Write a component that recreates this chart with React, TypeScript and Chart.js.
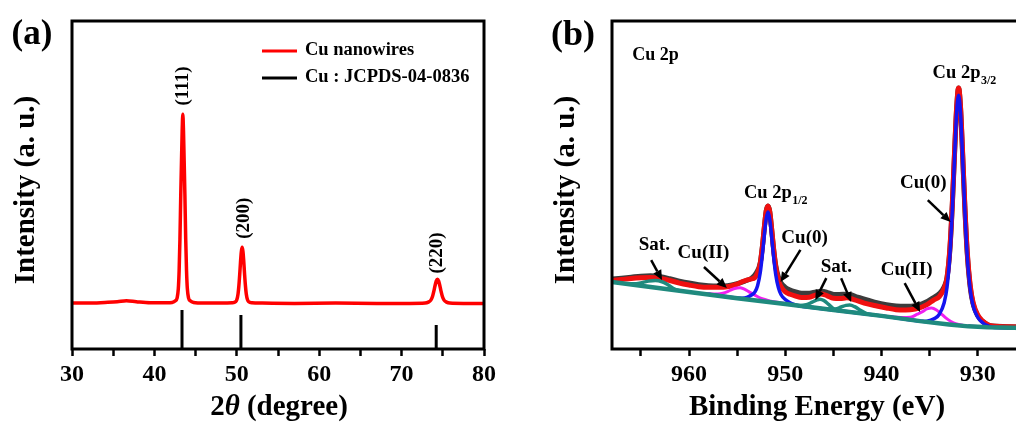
import React, { useEffect, useRef } from 'react';
import { Chart, registerables } from 'chart.js';

Chart.register(...registerables);

const FONT = '"Liberation Serif", "Times New Roman", serif';

// ---------- Panel (a): XRD ----------
const xrdAngle = [30, 32, 34, 35.5, 36.6, 37.8, 39.5, 41.5, 42.15, 42.55, 42.75, 42.9, 43.0, 43.1, 43.2, 43.29, 43.37, 43.45, 43.53, 43.61, 43.7, 43.8, 43.9, 44.0, 44.15, 44.35, 44.75, 46, 48, 49.45, 49.85, 50.0, 50.15, 50.25, 50.35, 50.45, 50.55, 50.65, 50.75, 50.85, 50.95, 51.05, 51.15, 51.3, 51.45, 51.85, 53, 57, 62, 67, 71, 72.85, 73.25, 73.55, 73.75, 73.9, 74.05, 74.2, 74.35, 74.5, 74.65, 74.8, 74.95, 75.15, 75.45, 75.85, 77.5, 80];
const xrdIntensity = [14.0, 14.0, 14.2, 14.4, 14.7, 14.4, 14.1, 14.1, 14.2, 14.7, 15.5, 18.3, 23.8, 33.5, 47.1, 57.5, 66.5, 71.6, 66.5, 57.5, 47.1, 33.5, 23.8, 18.3, 15.5, 14.7, 14.2, 14.0, 14.0, 14.1, 14.4, 15.0, 16.8, 19.2, 22.6, 26.5, 29.7, 31.0, 29.7, 26.5, 22.6, 19.2, 16.8, 15.0, 14.4, 14.1, 14.0, 13.9, 14.0, 13.9, 13.9, 14.0, 14.3, 14.9, 16.0, 17.5, 19.2, 20.7, 21.3, 20.7, 19.2, 17.5, 16.0, 14.9, 14.3, 14.0, 13.9, 13.9];
const refAngle = [43.35, 50.5, 74.2];
const refIntensity = [11.9, 10.4, 7.3];
const planeLabels = ['(111)', '(200)', '(220)'];
const planeLabelAngle = [43.51, 50.85, 74.32];
const planeLabelIntensity = [80.2, 39.9, 29.3];
const xrdLegend = ['Cu nanowires', 'Cu : JCPDS-04-0836'];

// ---------- Panel (b): XPS Cu 2p ----------
const rawEnergy = [968, 967, 966, 965, 964, 963, 962, 961, 960, 959, 958, 957, 956, 955, 954.2, 953.5, 953.0, 952.6, 952.38, 952.16, 951.98, 951.8, 951.62, 951.44, 951.22, 951.0, 950.72, 950.45, 950.0, 949.5, 949, 948.3, 947.5, 946.8, 946.2, 945.5, 944.8, 944, 943.3, 942.5, 941.5, 940.5, 939.5, 938.5, 937.5, 936.5, 935.8, 935.2, 934.6, 934.0, 933.5, 933.2, 932.9, 932.65, 932.4, 932.2, 932.0, 931.8, 931.6, 931.35, 931.1, 930.8, 930.5, 930.0, 929.5, 929.0, 928.5, 927, 925];
const rawIntensity = [21.3, 21.6, 21.9, 22.2, 22.3, 22.0, 21.4, 20.7, 20.1, 19.6, 19.3, 19.2, 19.3, 19.9, 20.7, 21.6, 23.3, 26.3, 31.2, 37.6, 42.2, 43.6, 42.0, 37.2, 30.6, 25.6, 22.0, 20.2, 18.8, 18.0, 17.5, 17.0, 17.0, 17.4, 17.6, 17.1, 16.6, 16.7, 16.6, 15.8, 15.0, 14.1, 13.5, 13.1, 13.0, 13.2, 13.8, 14.6, 15.7, 16.9, 19.0, 21.8, 30.5, 44, 61, 73.5, 79.6, 73.5, 60.5, 43, 29, 19, 13.8, 10.1, 8.4, 7.4, 7.0, 6.8, 6.6];

const fitEnergy = [968, 967, 966, 965, 964, 963, 962, 961, 960, 959, 958, 957, 956, 955, 954.5, 954.0, 953.6, 953.15, 952.88, 952.6, 952.38, 952.16, 951.98, 951.8, 951.62, 951.44, 951.22, 951.0, 950.72, 950.45, 950.0, 949.5, 949.0, 948.3, 947.5, 946.8, 946.3, 945.7, 945.0, 944.3, 943.6, 942.8, 941.8, 940.5, 939.5, 938.5, 937.5, 936.5, 935.8, 935.2, 934.6, 934.0, 933.5, 933.2, 932.9, 932.65, 932.4, 932.2, 932.0, 931.8, 931.6, 931.35, 931.1, 930.8, 930.5, 930.0, 929.5, 929.0, 928.5, 927, 925];
const fitIntensity = [20.9, 21.2, 21.5, 21.7, 21.8, 21.5, 20.9, 20.1, 19.5, 19.0, 18.8, 18.8, 19.0, 19.8, 20.5, 21.0, 21.3, 21.8, 23.2, 26.2, 31.2, 37.6, 42.1, 43.6, 41.9, 37.2, 30.6, 25.2, 21.1, 19.0, 17.4, 16.7, 16.2, 15.7, 15.8, 16.5, 16.8, 16.3, 15.5, 15.4, 15.6, 15.0, 14.0, 13.1, 12.5, 12.0, 11.9, 12.2, 12.8, 13.7, 14.9, 16.0, 18.5, 21.8, 31.0, 44.5, 61.5, 73.8, 79.6, 73.8, 61.0, 43.5, 29.5, 19.5, 14.2, 10.3, 8.5, 7.5, 7.0, 6.8, 6.6];

const cu0Energy = [958, 957, 956, 955, 954.5, 954.0, 953.6, 953.15, 952.88, 952.6, 952.38, 952.16, 951.98, 951.8, 951.62, 951.44, 951.22, 951.0, 950.72, 950.45, 950.0, 949.55, 949.1, 948.6, 947, 945, 942, 940, 938, 936.5, 935.5, 935.0, 934.5, 934.0, 933.5, 933.2, 932.9, 932.65, 932.4, 932.2, 932.0, 931.8, 931.6, 931.35, 931.1, 930.8, 930.5, 930.0, 929.5, 929.0, 928.5, 927, 925];
const cu0Intensity = [16.7, 16.3, 15.9, 15.55, 15.5, 15.7, 16.3, 17.4, 19.3, 23.3, 28.8, 35.3, 39.8, 41.8, 39.7, 35.0, 28.3, 22.8, 18.7, 16.6, 15.1, 14.2, 13.6, 13.2, 12.6, 11.9, 10.8, 10.1, 9.3, 8.7, 8.4, 8.7, 9.3, 10.6, 14.1, 18.9, 28.8, 42.5, 59.7, 72.2, 77.4, 72.0, 59.5, 42.1, 28.2, 18.2, 13.2, 9.6, 8.0, 7.1, 6.65, 6.5, 6.4];

const cu2Energy = [959.5, 958.5, 957.5, 957.0, 956.5, 956.0, 955.5, 955.0, 954.7, 954.3, 953.8, 953.2, 952.5, 951.5, 950.5, 949.5, 948, 945, 942, 940, 939, 938, 937, 936.3, 935.8, 935.3, 934.8, 934.3, 933.8, 933.3, 932.8, 932.3, 931.5, 930.5, 929.5, 928];
const cu2Intensity = [17.2, 16.9, 16.8, 16.8, 17.0, 17.5, 18.2, 18.6, 18.7, 18.3, 17.5, 16.5, 15.4, 14.6, 14.1, 13.6, 13.0, 11.9, 10.8, 10.1, 9.8, 9.6, 9.7, 10.6, 11.3, 12.2, 12.5, 11.9, 10.7, 9.4, 8.4, 7.7, 7.2, 6.9, 6.7, 6.55];

const bgEnergy = [968, 964, 960, 955, 950, 945, 940, 936, 933, 931, 929, 925];
const bgIntensity = [20.4, 18.9, 17.4, 15.5, 13.7, 11.9, 10.1, 8.5, 7.5, 6.9, 6.6, 6.4];

const satAEnergy = [966.5, 965.5, 964.8, 964.2, 963.5, 962.8, 962.2, 961.5, 961];
const satAIntensity = [19.9, 19.9, 20.3, 20.7, 20.9, 20.5, 19.6, 18.3, 17.8];
const satBEnergy = [948.5, 947.8, 947.2, 946.7, 946.4, 946.0, 945.5, 945.0, 944.5];
const satBIntensity = [13.2, 13.5, 14.3, 15.0, 15.2, 14.8, 13.6, 12.3, 11.75];
const satCEnergy = [945.5, 944.8, 944.2, 943.7, 943.3, 942.8, 942.2, 941.5];
const satCIntensity = [12.1, 12.2, 12.8, 13.3, 13.4, 12.9, 11.8, 10.7];

const xpsLabelText = ['Cu(0)', 'Cu(0)', 'Sat.', 'Cu(II)', 'Sat.', 'Cu(II)'];
const xpsLabelEnergy = [935.67, 948.0, 963.6, 958.5, 944.7, 937.4];
const xpsLabelIntensity = [50.6, 33.8, 31.7, 29.3, 25.0, 24.1];

const arrowFromEnergy = [935.2, 948.43, 963.93, 958.45, 945.74, 944.2, 937.6];
const arrowFromIntensity = [45.4, 30.2, 27.1, 25.0, 21.6, 21.6, 20.1];
const arrowToEnergy = [932.83, 950.5, 962.8, 956.07, 946.88, 943.16, 936.0];
const arrowToIntensity = [38.7, 20.4, 21.0, 18.6, 14.9, 14.3, 11.3];

const peakTitleMain = ['Cu 2p', 'Cu 2p'];
const peakTitleSub = ['3/2', '1/2'];
const peakTitleEnergy = [934.7, 954.3];
const peakTitleIntensity = [84.1, 47.6];

const toXY = (xs: number[], ys: number[]) => xs.map((x, i) => ({ x, y: ys[i] }));

function drawFrame(chart: any) {
  const { ctx, chartArea: ca } = chart;
  ctx.save();
  ctx.strokeStyle = '#000';
  ctx.lineWidth = 3;
  ctx.strokeRect(ca.left, ca.top, ca.right - ca.left, ca.bottom - ca.top);
  ctx.restore();
}

function drawRotated(ctx: CanvasRenderingContext2D, text: string, x: number, y: number, font: string) {
  ctx.save();
  ctx.translate(x, y);
  ctx.rotate(-Math.PI / 2);
  ctx.font = font;
  ctx.textAlign = 'center';
  ctx.textBaseline = 'middle';
  ctx.fillText(text, 0, 0);
  ctx.restore();
}

const xrdExtras = {
  id: 'xrdExtras',
  afterDraw(chart: any) {
    drawFrame(chart);
    const { ctx, chartArea: ca, scales } = chart;
    ctx.save();
    ctx.fillStyle = '#000';
    planeLabels.forEach((t, i) => {
      drawRotated(ctx, t, scales.x.getPixelForValue(planeLabelAngle[i]), scales.y.getPixelForValue(planeLabelIntensity[i]), `bold 19px ${FONT}`);
    });
    // legend
    const colors = ['#ff0000', '#000000'];
    xrdLegend.forEach((t, i) => {
      const y = ca.top + 30 + i * 27;
      ctx.strokeStyle = colors[i];
      ctx.lineWidth = 3;
      ctx.beginPath();
      ctx.moveTo(ca.left + 190, y);
      ctx.lineTo(ca.left + 225, y);
      ctx.stroke();
      ctx.font = `bold 18.5px ${FONT}`;
      ctx.textAlign = 'left';
      ctx.textBaseline = 'middle';
      ctx.fillText(t, ca.left + 233, y - 1);
    });
    // axis titles
    drawRotated(ctx, 'Intensity (a. u.)', 27, 190, `bold 29px ${FONT}`);
    const f1 = `bold 29px ${FONT}`;
    const f2 = `italic bold 29px ${FONT}`;
    ctx.textBaseline = 'middle';
    ctx.textAlign = 'left';
    ctx.font = f1; const w1 = ctx.measureText('2').width;
    ctx.font = f2; const w2 = ctx.measureText('\u03B8').width;
    ctx.font = f1; const w3 = ctx.measureText(' (degree)').width;
    const x0 = 279 - (w1 + w2 + w3) / 2;
    ctx.font = f1; ctx.fillText('2', x0, 408);
    ctx.font = f2; ctx.fillText('\u03B8', x0 + w1, 408);
    ctx.font = f1; ctx.fillText(' (degree)', x0 + w1 + w2, 408);
    ctx.font = `bold 35px ${FONT}`;
    ctx.textAlign = 'center';
    ctx.fillText('(a)', 32, 35);
    ctx.restore();
  },
};

function drawArrow(ctx: CanvasRenderingContext2D, x1: number, y1: number, x2: number, y2: number) {
  const ang = Math.atan2(y2 - y1, x2 - x1);
  const len = 10;
  const hw = 4.5;
  const bx = x2 - len * Math.cos(ang);
  const by = y2 - len * Math.sin(ang);
  ctx.beginPath();
  ctx.moveTo(x1, y1);
  ctx.lineTo(bx, by);
  ctx.stroke();
  ctx.beginPath();
  ctx.moveTo(x2, y2);
  ctx.lineTo(bx + hw * Math.sin(ang), by - hw * Math.cos(ang));
  ctx.lineTo(bx - hw * Math.sin(ang), by + hw * Math.cos(ang));
  ctx.closePath();
  ctx.fill();
}

const xpsExtras = {
  id: 'xpsExtras',
  afterDraw(chart: any) {
    drawFrame(chart);
    const { ctx, scales } = chart;
    const X = (e: number) => scales.x.getPixelForValue(e);
    const Y = (v: number) => scales.y.getPixelForValue(v);
    ctx.save();
    ctx.fillStyle = '#000';
    ctx.strokeStyle = '#000';
    ctx.lineWidth = 2.5;
    ctx.textAlign = 'center';
    ctx.textBaseline = 'middle';
    ctx.font = `bold 19px ${FONT}`;
    xpsLabelText.forEach((t, i) => ctx.fillText(t, X(xpsLabelEnergy[i]), Y(xpsLabelIntensity[i])));
    arrowFromEnergy.forEach((e, i) => drawArrow(ctx, X(e), Y(arrowFromIntensity[i]), X(arrowToEnergy[i]), Y(arrowToIntensity[i])));
    // peak titles with subscripts
    ctx.textAlign = 'left';
    peakTitleMain.forEach((t, i) => {
      const x = X(peakTitleEnergy[i]);
      const y = Y(peakTitleIntensity[i]);
      ctx.font = `bold 18.5px ${FONT}`;
      ctx.fillText(t, x, y);
      const w = ctx.measureText(t).width;
      ctx.font = `bold 12px ${FONT}`;
      ctx.fillText(peakTitleSub[i], x + w + 0.5, y + 8);
    });
    ctx.font = `bold 18px ${FONT}`;
    ctx.fillText('Cu 2p', X(965.9), Y(89.6));
    // titles
    drawRotated(ctx, 'Intensity (a. u.)', 67, 190, `bold 29px ${FONT}`);
    ctx.textAlign = 'center';
    ctx.font = `bold 29px ${FONT}`;
    ctx.fillText('Binding Energy (eV)', 317, 408);
    ctx.font = `bold 36px ${FONT}`;
    ctx.fillText('(b)', 73, 36);
    ctx.restore();
  },
};

const tickFont = { family: FONT, size: 24, weight: 'bold' as const };

function xAxis(min: number, max: number, reverse: boolean) {
  return {
    type: 'linear' as const,
    min,
    max,
    reverse,
    afterFit: (s: any) => { s.height = 76; },
    ticks: {
      stepSize: 5,
      includeBounds: false,
      autoSkip: false,
      maxRotation: 0,
      minRotation: 0,
      padding: 4,
      color: '#000',
      font: tickFont,
      callback: (v: any) => (Math.round(Number(v)) % 10 === 0 ? String(Math.round(Number(v))) : ''),
    },
    grid: { drawOnChartArea: false, drawTicks: true, tickLength: 7, tickWidth: 2.5, tickColor: '#000', color: '#000' },
    border: { display: false },
  };
}

export default function App() {
  const aRef = useRef<HTMLCanvasElement>(null);
  const bRef = useRef<HTMLCanvasElement>(null);

  useEffect(() => {
    const refData: any[] = [];
    refAngle.forEach((a, i) => {
      refData.push({ x: a, y: 0 }, { x: a, y: refIntensity[i] }, { x: a, y: null });
    });
    const ca = new Chart(aRef.current as HTMLCanvasElement, {
      type: 'line',
      data: {
        datasets: [
          { label: xrdLegend[0], data: toXY(xrdAngle, xrdIntensity), borderColor: '#ff0000', borderWidth: 3.5, pointRadius: 0, cubicInterpolationMode: 'monotone', order: 0 },
          { label: xrdLegend[1], data: refData, borderColor: '#000000', borderWidth: 3, pointRadius: 0, spanGaps: false, order: 1 },
        ],
      },
      options: {
        responsive: false,
        animation: false,
        devicePixelRatio: 1,
        layout: { padding: { left: 72, top: 21, right: 13, bottom: 0 } },
        plugins: { legend: { display: false }, tooltip: { enabled: false } },
        scales: {
          x: xAxis(30, 80, false) as any,
          y: { display: false, min: 0, max: 100 },
        },
      },
      plugins: [xrdExtras],
    });

    const teal = '#1f8a7e';
    const cb = new Chart(bRef.current as HTMLCanvasElement, {
      type: 'line',
      data: {
        datasets: [
          { label: 'Background', data: toXY(bgEnergy, bgIntensity), borderColor: teal, borderWidth: 4.5, pointRadius: 0, tension: 0, order: 0 },
          { label: 'Sat. 1', data: toXY(satAEnergy, satAIntensity), borderColor: teal, borderWidth: 3.5, pointRadius: 0, cubicInterpolationMode: 'monotone', order: 1 },
          { label: 'Sat. 2', data: toXY(satBEnergy, satBIntensity), borderColor: teal, borderWidth: 3.5, pointRadius: 0, cubicInterpolationMode: 'monotone', order: 1 },
          { label: 'Sat. 3', data: toXY(satCEnergy, satCIntensity), borderColor: teal, borderWidth: 3.5, pointRadius: 0, cubicInterpolationMode: 'monotone', order: 1 },
          { label: 'Cu(0)', data: toXY(cu0Energy, cu0Intensity), borderColor: '#1414f0', borderWidth: 3.5, pointRadius: 0, cubicInterpolationMode: 'monotone', order: 2 },
          { label: 'Cu(II)', data: toXY(cu2Energy, cu2Intensity), borderColor: '#f020f0', borderWidth: 3, pointRadius: 0, cubicInterpolationMode: 'monotone', order: 3 },
          { label: 'Fit', data: toXY(fitEnergy, fitIntensity), borderColor: '#f01010', borderWidth: 5, pointRadius: 0, cubicInterpolationMode: 'monotone', order: 4 },
          { label: 'Raw', data: toXY(rawEnergy, rawIntensity), borderColor: '#3c3c3c', borderWidth: 5, pointRadius: 0, cubicInterpolationMode: 'monotone', order: 5 },
        ],
      },
      options: {
        responsive: false,
        animation: false,
        devicePixelRatio: 1,
        layout: { padding: { left: 112, top: 21, right: 2, bottom: 0 } },
        plugins: { legend: { display: false }, tooltip: { enabled: false } },
        scales: {
          x: xAxis(925, 968, true) as any,
          y: { display: false, min: 0, max: 100 },
        },
      },
      plugins: [xpsExtras],
    });

    return () => {
      ca.destroy();
      cb.destroy();
    };
  }, []);

  return (
    <div style={{ position: 'fixed', left: 0, top: 0, width: 1016, height: 425, overflow: 'hidden', background: '#fff' }}>
      <canvas ref={aRef} width={500} height={425} style={{ position: 'absolute', left: 0, top: 0, width: 500, height: 425 }} />
      <canvas ref={bRef} width={530} height={425} style={{ position: 'absolute', left: 500, top: 0, width: 530, height: 425 }} />
    </div>
  );
}
